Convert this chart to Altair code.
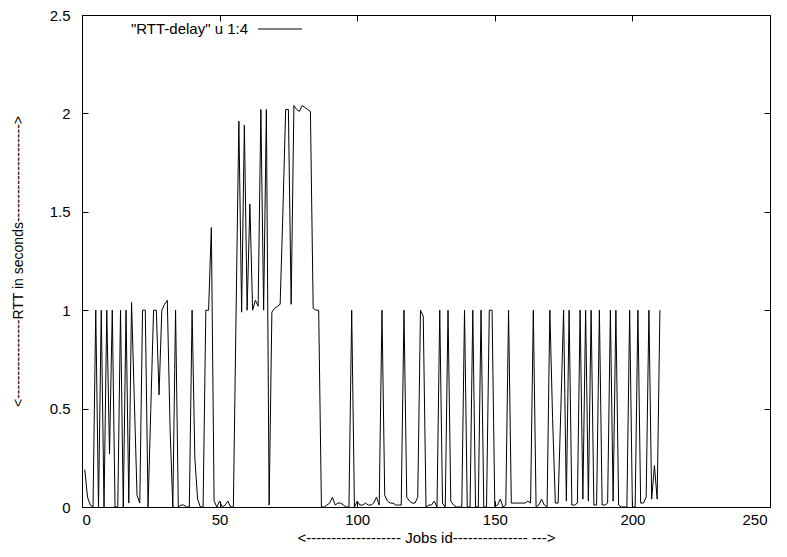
import altair as alt
import pandas as pd

# ---- data ----
job_id = list(range(1, 211))
rtt = [
    0.19, 0.05, 0.01, 0.0, 1.0, 0.0, 1.0, 0.0, 1.0, 0.27,        # 1-10
    1.0, 0.0, 0.0, 1.0, 0.0, 1.0, 0.02, 1.04, 0.55, 0.06,        # 11-20
    0.02, 1.0, 1.0, 0.0, 0.5, 1.0, 1.0, 0.57, 1.0, 1.03,         # 21-30
    1.05, 0.4, 0.0, 1.0, 0.0, 0.01, 0.01, 0.0, 0.0, 1.0,         # 31-40
    0.25, 0.04, 0.0, 0.0, 1.0, 1.0, 1.42, 0.03, 0.0, 0.03,       # 41-50
    0.0, 0.01, 0.03, 0.0, 0.0, 1.0, 1.96, 0.99, 1.94, 1.0,       # 51-60
    1.54, 1.0, 1.05, 1.02, 2.02, 1.0, 2.02, 0.01, 0.99, 1.01,    # 61-70
    1.02, 1.03, 1.5, 2.02, 2.02, 1.03, 2.04, 2.02, 2.01, 2.04,   # 71-80
    2.03, 2.02, 2.01, 1.01, 1.0, 1.0, 0.0, 0.0, 0.01, 0.02,      # 81-90
    0.05, 0.01, 0.02, 0.02, 0.01, 0.0, 0.0, 1.0, 0.0, 0.03,      # 91-100
    0.01, 0.01, 0.02, 0.01, 0.01, 0.02, 0.05, 0.01, 1.0, 0.06,   # 101-110
    0.03, 0.02, 0.02, 0.01, 0.01, 0.01, 1.0, 0.05, 0.03, 0.02,   # 111-120
    0.02, 0.05, 1.0, 0.97, 0.0, 0.01, 0.01, 0.03, 0.0, 1.0,      # 121-130
    0.02, 0.0, 1.0, 0.03, 0.01, 0.0, 0.0, 0.0, 1.0, 0.0,         # 131-140
    0.0, 1.0, 0.0, 0.0, 1.0, 0.0, 0.0, 1.0, 1.0, 0.0,            # 141-150
    0.01, 0.04, 0.0, 0.01, 1.0, 0.02, 0.02, 0.02, 0.02, 0.02,    # 151-160
    0.02, 0.03, 0.02, 1.0, 0.0, 0.01, 0.04, 0.01, 0.0, 1.0,      # 161-170
    0.45, 0.02, 0.02, 0.5, 1.0, 0.03, 1.0, 0.01, 0.01, 0.02,     # 171-180
    1.0, 0.04, 1.0, 0.03, 1.0, 0.01, 0.01, 1.0, 0.01, 0.01,      # 181-190
    0.02, 1.0, 0.03, 1.0, 0.01, 0.0, 0.0, 0.0, 1.0, 0.0,         # 191-200
    0.0, 1.0, 0.02, 0.02, 0.05, 1.0, 0.04, 0.21, 0.04, 1.0,      # 201-210
]
x_ticks = [0, 50, 100, 150, 200, 250]
y_ticks = [0, 0.5, 1, 1.5, 2, 2.5]
legend_label = ['"RTT-delay" u 1:4']
x_title = "<------------------- Jobs id--------------- --->"
y_title = "<-----------------RTT in seconds--------------------->"

df = pd.DataFrame({"job": job_id, "rtt": rtt})
leg = pd.DataFrame({"label": legend_label})

W, H = 688, 492
TL = 6
FONT = "Liberation Sans"
FS = 15
xscale = alt.Scale(domain=[0, 250], nice=False, zero=False)
yscale = alt.Scale(domain=[0, 2.5], nice=False)

common = dict(domain=False, ticks=True, tickSize=TL, offset=-TL,
              tickColor="black", tickWidth=1, grid=False)

line = alt.Chart(df).mark_line(color="black", strokeWidth=1).encode(
    x=alt.X("job:Q", scale=xscale,
            axis=alt.Axis(values=x_ticks, title=x_title, orient="bottom",
                          labelPadding=5, titlePadding=3, labelFontSize=FS,
                          titleFontSize=FS,
                          labelOffset=alt.expr("datum.value == 250 ? -3 : 0"),
                          **common)),
    y=alt.Y("rtt:Q", scale=yscale,
            axis=alt.Axis(values=y_ticks, format="~g", title=y_title,
                          orient="left", labelPadding=12, titlePadding=24,
                          labelFontSize=FS, titleFontSize=14, **common)),
)

mirror = alt.Chart(df).mark_line(opacity=0).encode(
    x=alt.X("job:Q", scale=xscale,
            axis=alt.Axis(values=x_ticks, title=None, labels=False,
                          orient="top", **common)),
    y=alt.Y("rtt:Q", scale=yscale,
            axis=alt.Axis(values=y_ticks, title=None, labels=False,
                          orient="right", **common)),
)

legend_text = alt.Chart(leg).mark_text(
    align="right", baseline="middle", fontSize=FS, font=FONT, color="black"
).encode(text="label:N", x=alt.value(166), y=alt.value(14))
legend_line = alt.Chart(leg).mark_rule(color="black", strokeWidth=1).encode(
    x=alt.value(176), x2=alt.value(220), y=alt.value(14))

chart = alt.layer(
    line, mirror, legend_text, legend_line
).resolve_axis(
    x="independent", y="independent"
).properties(
    width=W, height=H,
    autosize=alt.AutoSizeParams(type="none"),
    padding={"left": 74, "top": 7, "right": 9, "bottom": 38},
    background="white",
).configure_view(
    stroke="black", strokeWidth=1
).configure_axis(
    labelFont=FONT, titleFont=FONT,
    labelColor="black", titleColor="black", titleFontWeight="normal",
)

chart.save("out.html", embed_options={"renderer": "svg", "actions": False})
